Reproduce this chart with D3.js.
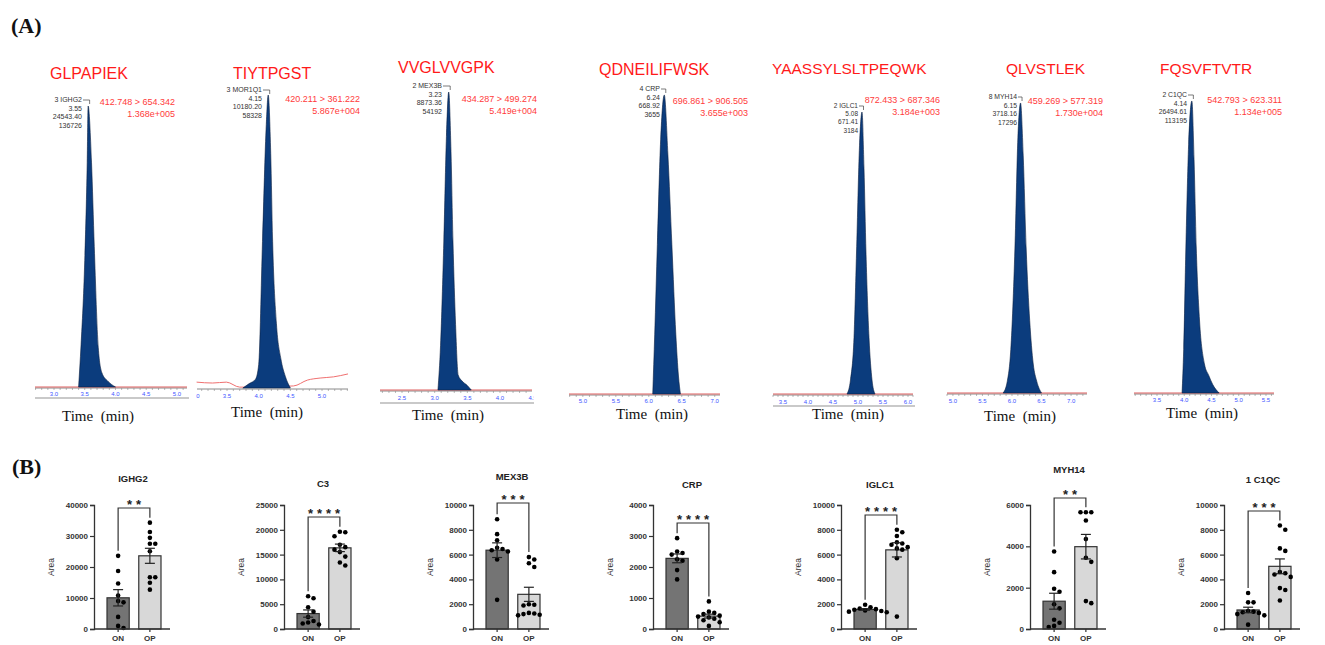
<!DOCTYPE html>
<html>
<head>
<meta charset="utf-8">
<script src="https://cdn.jsdelivr.net/npm/d3@7"></script>
<style>
  body { margin: 0; background: #fff; }
  text { font-family: Arial, "Liberation Sans", sans-serif; }
  .panel { font-family: "Liberation Serif", "Times New Roman", serif; font-weight: bold; font-size: 22px; fill: #111; }
  .peptide { fill: #ff1a1a; }
  .annot { fill: #333; }
  .trans { font-size: 9px; fill: #ff3b3b; }
  .tlabel { font-family: "Liberation Serif", "Times New Roman", serif; font-size: 15px; fill: #111; }
  .btitle { font-size: 9.5px; font-weight: bold; fill: #222; }
  .btick { font-size: 8px; font-weight: bold; fill: #333; }
  .area { font-size: 8.5px; fill: #333; }
  .stars { font-size: 13px; font-weight: bold; fill: #222; }
</style>
</head>
<body>
<div id="fig"></div>
<script>
// ---------- panel A data: MRM chromatograms ----------
var peptides = ["GLPAPIEK", "TIYTPGST", "VVGLVVGPK", "QDNEILIFWSK", "YAASSYLSLTPEQWK", "QLVSTLEK", "FQSVFTVTR"];
var peakNames = ["3 IGHG2", "3 MOR1Q1", "2 MEX3B", "4 CRP", "2 IGLC1", "8 MYH14", "2 C1QC"];
var peakRT = ["3.55", "4.15", "3.23", "6.24", "5.08", "6.15", "4.14"];
var peakArea = ["24543.40", "10180.20", "8873.36", "668.92", "671.41", "3718.16", "26494.61"];
var peakHeight = ["136726", "58328", "54192", "3655", "3184", "17296", "113195"];
var transitions = ["412.748 > 654.342", "420.211 > 361.222", "434.287 > 499.274", "696.861 > 906.505",
                   "872.433 > 687.346", "459.269 > 577.319", "542.793 > 623.311"];
var maxIntensity = ["1.368e+005", "5.867e+004", "5.419e+004", "3.655e+003", "3.184e+003", "1.730e+004", "1.134e+005"];
var timeTicks = [
  [3.0, 3.5, 4.0, 4.5, 5.0],
  [3.0, 3.5, 4.0, 4.5, 5.0],
  [2.5, 3.0, 3.5, 4.0, 4.5],
  [5.0, 5.5, 6.0, 6.5, 7.0],
  [3.5, 4.0, 4.5, 5.0, 5.5, 6.0],
  [5.0, 5.5, 6.0, 6.5, 7.0],
  [3.5, 4.0, 4.5, 5.0, 5.5]
];
// peak traces: retention time (min) and intensity (% of max)
var peakTimes = [
  [3.40, 3.44, 3.50, 3.54, 3.555, 3.61, 3.655, 3.72, 3.78, 3.88, 4.00],
  [3.75, 3.85, 3.95, 4.00, 4.06, 4.12, 4.15, 4.19, 4.22, 4.28, 4.35, 4.42, 4.50],
  [3.05, 3.09, 3.14, 3.18, 3.215, 3.25, 3.28, 3.32, 3.36, 3.42, 3.50, 3.56],
  [6.06, 6.09, 6.13, 6.18, 6.235, 6.29, 6.35, 6.41, 6.45, 6.48],
  [4.78, 4.85, 4.92, 4.97, 5.03, 5.08, 5.12, 5.16, 5.22, 5.28, 5.34],
  [5.85, 5.92, 5.98, 6.05, 6.10, 6.145, 6.19, 6.24, 6.30, 6.36, 6.42, 6.50],
  [3.96, 3.99, 4.03, 4.08, 4.14, 4.18, 4.22, 4.28, 4.37, 4.45, 4.52, 4.64]
];
var peakPct = [
  [0, 15, 45, 80, 100, 80, 50, 14, 5, 2, 0],
  [0, 1.5, 3, 8, 50, 90, 100, 80, 50, 22, 10, 4, 0],
  [0, 15, 50, 85, 100, 80, 50, 22, 5, 3, 1.5, 0],
  [0, 20, 50, 85, 100, 80, 50, 20, 6, 0],
  [0, 5, 20, 50, 88, 100, 80, 50, 20, 5, 0],
  [0, 4, 15, 50, 88, 100, 82, 50, 25, 10, 4, 0],
  [0, 15, 50, 85, 100, 80, 50, 25, 10, 6, 3, 0]
];
// background trace of TIYTPGST (the only non-flat one)
var noiseTimes = [3.02, 3.27, 3.49, 3.70, 3.83, 4.55, 4.77, 4.97, 5.18, 5.41];
var noisePct = [2.0, 1.7, 2.0, 0.3, 0.3, 0.7, 2.7, 3.4, 3.8, 4.8];

// ---------- panel B data: peak areas per group ----------
var proteins = ["IGHG2", "C3", "MEX3B", "CRP", "IGLC1", "MYH14", "1 C1QC"];
var groups = ["ON", "OP"];
var onValues = [
  [23600, 18700, 14700, 10800, 9000, 8600, 3900, 1000, 300],
  [6600, 6200, 4400, 3500, 2400, 1600, 1300, 1100, 900],
  [8850, 7650, 7150, 6550, 6450, 6350, 6250, 5600, 2350],
  [2930, 2500, 2450, 2400, 2250, 2200, 1900, 1600],
  [1950, 1750, 1650, 1600, 1550, 1500, 1450, 1400, 1350],
  [3750, 2750, 1950, 1800, 1200, 1000, 450, 300, 150, 100],
  [2900, 2150, 2150, 1450, 1400, 1350, 1300, 1200, 1100, 350]
];
var opValues = [
  [34300, 31300, 29400, 27500, 27500, 25100, 16700, 16700, 14900, 12700],
  [19600, 19500, 18700, 17000, 16500, 16000, 15500, 14600, 13400, 12800],
  [5800, 5600, 5300, 5000, 2000, 1950, 1900, 1300, 1250, 1200, 1150, 1100],
  [890, 560, 520, 480, 430, 400, 370, 330, 280, 220, 100],
  [8000, 7800, 7500, 7000, 6900, 6800, 6600, 6500, 6400, 5700, 1000],
  [5650, 5650, 5650, 5250, 4350, 3450, 3250, 1350, 1250],
  [8350, 8000, 6500, 6300, 4600, 4500, 4400, 4200, 3300, 3150, 2300]
];
var yMax = [40000, 25000, 10000, 4000, 10000, 6000, 10000];
var yStep = [10000, 5000, 2000, 1000, 2000, 2000, 2000];
var stars = ["**", "****", "***", "****", "****", "**", "***"];

// ---------- layout ----------
// each chromatogram is a pasted screenshot, so sizes differ slightly
var chromLayout = [
  {x0: 35, x1: 187, t0: 2.691, t1: 5.163, base: 387, apex: 106, tickY: 394, gray: 398, timeX: 98, timeY: 421, aR: 82, aY: 102, aF: 7, rR: 175, rY: 105, pX: 50, pY: 79, pF: 16},
  {x0: 197, x1: 348, t0: 3.026, t1: 5.41, base: 388, apex: 95, tickY: 396, gray: null, timeX: 267, timeY: 417, aR: 262, aY: 92, aF: 7, rR: 360, rY: 102, pX: 233, pY: 79, pF: 16},
  {x0: 380, x1: 532, t0: 2.163, t1: 4.49, base: 390, apex: 92, tickY: 398, gray: 403, timeX: 448, timeY: 420, aR: 442, aY: 88, aF: 7, rR: 537, rY: 102, pX: 398, pY: 73, pF: 16},
  {x0: 569, x1: 720, t0: 4.79, t1: 7.08, base: 394, apex: 95, tickY: 401, gray: null, timeX: 652, timeY: 419, aR: 660, aY: 91, aF: 7, rR: 748, rY: 104, pX: 599, pY: 75, pF: 16},
  {x0: 773, x1: 913, t0: 3.30, t1: 6.10, base: 394, apex: 112, tickY: 402, gray: 406, timeX: 848, timeY: 419, aR: 858, aY: 108, aF: 6.5, rR: 940, rY: 103, pX: 772, pY: 74, pF: 15.5},
  {x0: 947, x1: 1087, t0: 4.90, t1: 7.27, base: 393, apex: 103, tickY: 401, gray: null, timeX: 1020, timeY: 421, aR: 1017, aY: 99, aF: 6.8, rR: 1103, rY: 104, pX: 1006, pY: 74, pF: 15.5},
  {x0: 1134, x1: 1274, t0: 3.078, t1: 5.647, base: 393, apex: 101, tickY: 400, gray: null, timeX: 1202, timeY: 418, aR: 1187, aY: 97, aF: 6.8, rR: 1282, rY: 103, pX: 1160, pY: 74, pF: 15.5}
];
var barX0 = [94, 284, 473, 653, 841, 1030, 1224];
var titleY = [482, 487, 480, 488, 488, 473, 483];
var bracketY = [508, 517, 503, 523, 515, 498, 511];
var plotTop = 505, plotBottom = 629, plotW = 76;

var svg = d3.select("#fig").append("svg")
    .attr("width", 1325)
    .attr("height", 645);

svg.append("text").attr("class", "panel").attr("x", 11).attr("y", 33).text("(A)");
svg.append("text").attr("class", "panel").attr("x", 12).attr("y", 474).text("(B)");

// ---------- draw chromatograms ----------
chromLayout.forEach(function (L, i) {
    var g = svg.append("g");
    var x = d3.scaleLinear().domain([L.t0, L.t1]).range([L.x0, L.x1]);
    var y = d3.scaleLinear().domain([0, 100]).range([L.base, L.apex]);

    // clip in the axis group's own coordinates
    g.append("clipPath").attr("id", "clip" + i)
        .append("rect").attr("x", L.x0 - 1).attr("y", -5)
        .attr("width", L.x1 - L.x0 + 3).attr("height", 20);

    if (L.gray) {
        g.append("line").attr("x1", L.x0).attr("x2", L.x1 + 2)
            .attr("y1", L.gray).attr("y2", L.gray)
            .attr("stroke", "#c9c9c9").attr("stroke-width", 2);
    }

    // axis with minor ticks
    var ax = g.append("g").attr("transform", "translate(0," + (L.base + 1) + ")")
        .attr("clip-path", "url(#clip" + i + ")");
    ax.append("line").attr("x1", L.x0).attr("x2", L.x1)
        .attr("stroke", "#8a8a8a").attr("stroke-width", 1);
    ax.selectAll("line.minor").data(x.ticks(30)).enter().append("line")
        .attr("class", "minor")
        .attr("x1", function (d) { return x(d); }).attr("x2", function (d) { return x(d); })
        .attr("y1", 0).attr("y2", 2).attr("stroke", "#8a8a8a").attr("stroke-width", 0.6);
    ax.selectAll("text").data(timeTicks[i]).enter().append("text")
        .attr("x", function (d) { return x(d); })
        .attr("y", L.tickY - L.base + 1)
        .attr("text-anchor", "middle")
        .style("font-size", "6px").style("fill", "#3d55ff")
        .text(function (d) { return d3.format(".1f")(d); });

    // background trace
    if (i === 1) {
        var nl = d3.line()
            .x(function (d) { return x(d[0]); })
            .y(function (d) { return y(d[1]); })
            .curve(d3.curveMonotoneX);
        g.append("path").datum(d3.zip(noiseTimes, noisePct))
            .attr("d", nl).attr("fill", "none")
            .attr("stroke", "#f07070").attr("stroke-width", 1);
    } else {
        g.append("line").attr("x1", L.x0).attr("x2", L.x1)
            .attr("y1", L.base).attr("y2", L.base)
            .attr("stroke", "#e06060").attr("stroke-width", 1.2);
    }

    // peak
    var pts = d3.zip(peakTimes[i], peakPct[i]);
    var area = d3.area()
        .x(function (d) { return x(d[0]); })
        .y0(L.base)
        .y1(function (d) { return y(d[1]); })
        .curve(d3.curveMonotoneX);
    g.append("path").datum(pts).attr("d", area)
        .attr("fill", "#0b3c7d").attr("stroke", "#0a1f3f").attr("stroke-width", 0.6);

    // peak label with leader
    var apexT = peakTimes[i][peakPct[i].indexOf(100)];
    g.append("polyline")
        .attr("points", [[L.aR + 1, L.aY - 2], [x(apexT) + 1.5, L.aY - 2], [x(apexT) + 1.5, L.aY + 2]].join(" "))
        .attr("fill", "none").attr("stroke", "#444").attr("stroke-width", 0.7);
    [peakNames[i], peakRT[i], peakArea[i], peakHeight[i]].forEach(function (s, k) {
        g.append("text").attr("class", "annot")
            .attr("x", L.aR).attr("y", L.aY + k * (L.aF + 1.7))
            .attr("text-anchor", "end").style("font-size", L.aF + "px").text(s);
    });
    g.append("text").attr("class", "trans").attr("x", L.rR).attr("y", L.rY)
        .attr("text-anchor", "end").text(transitions[i]);
    g.append("text").attr("class", "trans").attr("x", L.rR).attr("y", L.rY + 11.5)
        .attr("text-anchor", "end").text(maxIntensity[i]);

    g.append("text").attr("class", "peptide").attr("x", L.pX).attr("y", L.pY)
        .style("font-size", L.pF + "px").text(peptides[i]);
    g.append("text").attr("class", "tlabel").attr("x", L.timeX).attr("y", L.timeY)
        .attr("text-anchor", "middle").attr("xml:space", "preserve").text("Time  (min)");
});

// ---------- draw bar charts ----------
function swarm(vals, y, cx, r) {
    var placed = [];
    var step = r * 2 + 0.8;
    vals.slice().sort(d3.descending).forEach(function (v) {
        var py = y(v);
        for (var k = 0; k < 30; k++) {
            var off = (k % 2 ? 1 : -1) * Math.ceil(k / 2) * step;
            var px = cx + off;
            var hit = placed.some(function (p) {
                return Math.hypot(p.x - px, p.y - py) < r * 2 + 0.4;
            });
            if (!hit) { placed.push({x: px, y: py}); break; }
        }
    });
    return placed;
}

proteins.forEach(function (name, i) {
    var g = svg.append("g");
    var x0 = barX0[i];
    var x = d3.scaleBand().domain(groups).range([x0 + 13, x0 + 67]).paddingInner(0.3);
    var y = d3.scaleLinear().domain([0, yMax[i]]).range([plotBottom, plotTop]);
    var sets = [onValues[i], opValues[i]];
    var fills = ["#747474", "#d8d8d8"];

    // bars
    sets.forEach(function (vals, k) {
        var m = d3.mean(vals);
        g.append("rect")
            .attr("x", x(groups[k])).attr("width", x.bandwidth())
            .attr("y", y(m)).attr("height", plotBottom - y(m))
            .attr("fill", fills[k]).attr("stroke", "#333").attr("stroke-width", 1.2);
    });

    // points
    sets.forEach(function (vals, k) {
        var cx = x(groups[k]) + x.bandwidth() / 2;
        g.selectAll(null).data(swarm(vals, y, cx, 2.3)).enter().append("circle")
            .attr("cx", function (d) { return d.x; })
            .attr("cy", function (d) { return d.y; })
            .attr("r", 2.3).attr("fill", "#000");
    });

    // error bars (mean +/- SEM)
    sets.forEach(function (vals, k) {
        var m = d3.mean(vals);
        var sem = d3.deviation(vals) / Math.sqrt(vals.length);
        var cx = x(groups[k]) + x.bandwidth() / 2;
        g.append("line").attr("x1", cx).attr("x2", cx)
            .attr("y1", y(m - sem)).attr("y2", y(m + sem))
            .attr("stroke", "#222").attr("stroke-width", 1.2);
        [m - sem, m + sem].forEach(function (v) {
            g.append("line").attr("x1", cx - 5).attr("x2", cx + 5)
                .attr("y1", y(v)).attr("y2", y(v))
                .attr("stroke", "#222").attr("stroke-width", 1.2);
        });
    });

    // axes
    var yAxis = g.append("g").attr("transform", "translate(" + x0 + ",0)")
        .call(d3.axisLeft(y).tickValues(d3.range(0, yMax[i] + 1, yStep[i]))
            .tickSize(4).tickPadding(2).tickFormat(d3.format("d")));
    yAxis.attr("font-family", null).attr("font-size", null);
    yAxis.select(".domain").attr("stroke", "#333").attr("stroke-width", 1.3);
    yAxis.selectAll(".tick line").attr("stroke", "#333").attr("stroke-width", 1.2);
    yAxis.selectAll(".tick text").attr("class", "btick").attr("fill", null);

    g.append("line").attr("x1", x0).attr("x2", x0 + plotW)
        .attr("y1", plotBottom).attr("y2", plotBottom)
        .attr("stroke", "#333").attr("stroke-width", 1.3);
    groups.forEach(function (gr) {
        var cx = x(gr) + x.bandwidth() / 2;
        g.append("line").attr("x1", cx).attr("x2", cx)
            .attr("y1", plotBottom).attr("y2", plotBottom + 3)
            .attr("stroke", "#333").attr("stroke-width", 1.2);
        g.append("text").attr("class", "btick").attr("x", cx).attr("y", plotBottom + 12)
            .attr("text-anchor", "middle").text(gr);
    });

    g.append("text").attr("class", "area")
        .attr("transform", "translate(" + (x0 - 40) + "," + 567 + ") rotate(-90)")
        .attr("text-anchor", "middle").text("Area");

    g.append("text").attr("class", "btitle")
        .attr("x", x0 + 39).attr("y", titleY[i])
        .attr("text-anchor", "middle").text(name);

    // significance bracket
    var cOn = x("ON") + x.bandwidth() / 2, cOp = x("OP") + x.bandwidth() / 2;
    var by = bracketY[i];
    var legOn = y(d3.max(onValues[i])) - 5, legOp = y(d3.max(opValues[i])) - 5;
    g.append("polyline")
        .attr("points", [[cOn, legOn], [cOn, by], [cOp, by], [cOp, legOp]].join(" "))
        .attr("fill", "none").attr("stroke", "#333").attr("stroke-width", 1.2);
    g.append("text").attr("class", "stars")
        .attr("x", (cOn + cOp) / 2 + 2).attr("y", by + 1)
        .attr("text-anchor", "middle").attr("letter-spacing", "4px")
        .text(stars[i]);
});
</script>
</body>
</html>
